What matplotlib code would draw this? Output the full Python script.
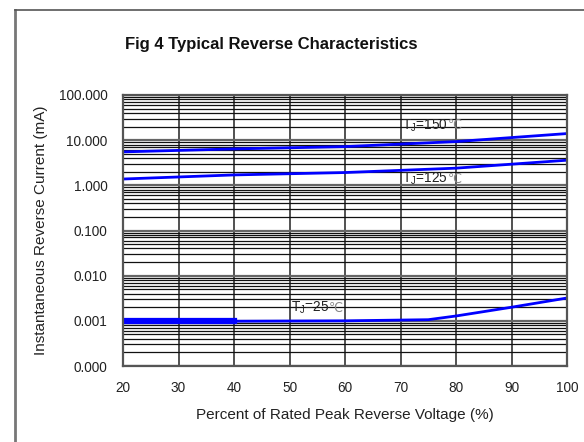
import matplotlib
matplotlib.use("Agg")
import matplotlib.pyplot as plt
from matplotlib.ticker import FixedLocator, LogLocator, FuncFormatter, NullFormatter
from matplotlib.lines import Line2D
from matplotlib.transforms import offset_copy

plt.rcParams['font.family'] = ['Liberation Sans', 'DejaVu Sans']

# data
voltage = [20, 40, 60, 80, 100]
i_150 = [5.5, 6.4, 7.2, 9.3, 14.0]
i_125 = [1.38, 1.7, 1.92, 2.4, 3.6]
voltage_25 = [20, 40, 60, 75, 80, 90, 100]
i_25 = [0.00098, 0.00098, 0.001, 0.00106, 0.00128, 0.002, 0.0032]

x_ticks = [20, 30, 40, 50, 60, 70, 80, 90, 100]
y_ticks = [0.0001, 0.001, 0.01, 0.1, 1, 10, 100]

fig = plt.figure(figsize=(5.84, 4.42), dpi=100)
ax = fig.add_axes([123 / 584, 76 / 442, 444 / 584, 271 / 442])

# outer frame (left and top edges only show in the picture)
fig.add_artist(Line2D([15 / 584, 15 / 584], [0, 1 - 10 / 442], transform=fig.transFigure,
                      color='#777777', lw=2))
fig.add_artist(Line2D([15 / 584, 1], [1 - 10 / 442, 1 - 10 / 442], transform=fig.transFigure,
                      color='#555555', lw=1.2))

ax.set_yscale('log')
ax.set_xlim(20, 100)
ax.set_ylim(0.0001, 100)

ax.xaxis.set_major_locator(FixedLocator(x_ticks))
ax.yaxis.set_major_locator(FixedLocator(y_ticks))
ax.yaxis.set_minor_locator(LogLocator(base=10, subs=range(2, 10), numticks=20))
ax.yaxis.set_major_formatter(FuncFormatter(lambda v, p: f"{v:.3f}"))
ax.yaxis.set_minor_formatter(NullFormatter())

ax.grid(True, which='major', axis='x', color='#222222', lw=1.1)
ax.grid(True, which='major', axis='y', color='#666666', lw=1.6)
ax.grid(True, which='minor', axis='y', color='#111111', lw=0.9)
ax.tick_params(which='both', length=0, labelsize=9.8, colors='#222222')
ax.tick_params(axis='y', pad=11)
ax.tick_params(axis='x', pad=11)
for s in ax.spines.values():
    s.set_color('#555555')
    s.set_linewidth(1.6)

ax.plot(voltage, i_150, color='#0000ff', lw=2)
ax.plot(voltage, i_125, color='#0000ff', lw=2)
ax.plot(voltage_25, i_25, color='#0000ff', lw=2)
ax.plot(voltage_25[:2], i_25[:2], color='#0000ff', lw=4.5)

renderer = fig.canvas.get_renderer()


def tj_label(x, y, temp):
    # T_J part via mathtext, the degree sign from DejaVu (Liberation lacks it)
    t = ax.text(x, y, r'T$_\mathregular{J}$=' + temp, fontsize=9.8, va='baseline', ha='left',
                color='#222222')
    w = t.get_window_extent(renderer).width
    tr = offset_copy(ax.transData, fig=fig, x=w, y=0, units='dots')
    ax.text(x, y, '℃', transform=tr, fontsize=9, va='baseline', ha='left',
            color='#888888', family='DejaVu Sans')


tj_label(70.3, 17.5, '150')
tj_label(70.3, 1.15, '125')
tj_label(50.2, 0.0016, '25')

ax.set_xlabel('Percent of Rated Peak Reverse Voltage (%)', fontsize=11, labelpad=9, color='#222222')
ax.set_ylabel('Instantaneous Reverse Current (mA)', fontsize=11, labelpad=8, color='#222222')
fig.text(271 / 584, 1 - 45 / 442, 'Fig 4 Typical Reverse Characteristics', fontsize=12,
         fontweight='bold', ha='center', va='center', color='#111111')

fig.savefig('out.png', dpi=100)
